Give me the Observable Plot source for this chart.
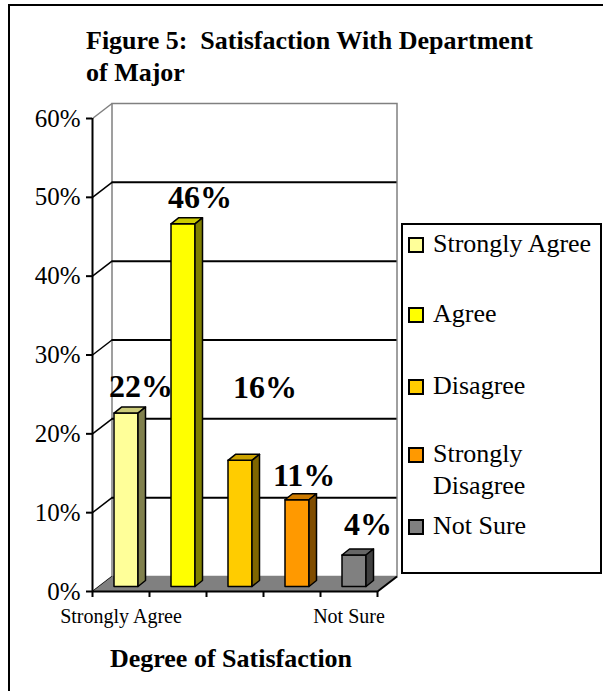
<!DOCTYPE html>
<html>
<head>
<meta charset="utf-8">
<script src="https://cdn.jsdelivr.net/npm/d3@7"></script>
<script src="https://cdn.jsdelivr.net/npm/@observablehq/plot@0.6"></script>
<style>
  body { margin: 0; background: #fff; font-family: "Liberation Serif", "Times New Roman", serif; }
  #page { position: relative; width: 603px; height: 691px; overflow: hidden; background: #fff; }
  #page svg { position: absolute; left: 0; top: 0; }
  .bt { position: absolute; left: 8px; top: 4px; right: 0; height: 2px; background: #000; }
  .bl { position: absolute; left: 8px; top: 4px; width: 2px; bottom: 0; background: #000; }
  #title { position: absolute; left: 86px; top: 25px; font-weight: bold; font-size: 26px; line-height: 32px; white-space: pre; color: #000; }
  #xtitle { position: absolute; left: 0; width: 462px; top: 643px; text-align: center; font-weight: bold; font-size: 26px; line-height: 32px; color: #000; }
  #legend { position: absolute; left: 401px; top: 223px; width: 201px; height: 351px; border: 2px solid #000; box-sizing: border-box; background: #fff; }
  .item { position: absolute; left: 5px; font-size: 26px; line-height: 32px; color: #000; }
  .sw { position: absolute; left: 0; top: 9px; width: 16px; height: 16px; border: 2px solid #000; box-sizing: border-box; }
  .lt { position: absolute; left: 25px; top: 0; white-space: nowrap; }
</style>
</head>
<body>
<div id="page">
  <div class="bt"></div><div class="bl"></div>
  <div id="title"></div>
  <div id="xtitle"></div>
  <div id="legend"></div>
</div>
<script>
// ---- data ----
const categories = ["Strongly Agree", "Agree", "Disagree", "Strongly Disagree", "Not Sure"];
const values = [22, 46, 16, 11, 4];
const yTicks = [0, 10, 20, 30, 40, 50, 60];
const xTickLabels = ["Strongly Agree", "", "", "", "Not Sure"];
const legendLabels = ["Strongly Agree", "Agree", "Disagree", "Strongly\nDisagree", "Not Sure"];
const titleText = "Figure 5:  Satisfaction With Department\nof Major";
const xTitle = "Degree of Satisfaction";

// ---- styles ----
const frontColors = ["#FFFF99", "#FFFF00", "#FFCC00", "#FF9900", "#808080"];
const topColors   = ["#CCCC7A", "#CCCC00", "#CCA300", "#CC7A00", "#666666"];
const sideColors  = ["#80804D", "#808000", "#806600", "#804D00", "#404040"];
const W = 603, H = 691;
const M = {left: 92, right: 226, top: 118, bottom: 100};
const WALL = {dx: 19.5, dy: 15};      // px depth of back wall
const BAR = {width: 24, shiftX: 5, shiftY: 5, depthX: 7.5, depthY: 6}; // px
const labelNudge = [[20, -21], [22, -21], [30, -67], [12, -19], [19, -25]]; // px [dx, baseline dy]
const legendTops = [3, 73, 145, 213, 285];

const xDomain = [0, categories.length];
const yDomain = [0, yTicks[yTicks.length - 1]];
const kx = (xDomain[1] - xDomain[0]) / (W - M.left - M.right);
const ky = (yDomain[1] - yDomain[0]) / (H - M.top - M.bottom);

// back-wall side diagonals
const diag = yTicks.map(v => ({x1: 0, y1: v, x2: WALL.dx * kx, y2: v + WALL.dy * ky,
  c: v === yDomain[1] ? "#808080" : "#000"}));
// floor polygon
const floor = [
  {x: xDomain[0], y: 0}, {x: xDomain[1], y: 0},
  {x: xDomain[1] + WALL.dx * kx, y: WALL.dy * ky}, {x: xDomain[0] + WALL.dx * kx, y: WALL.dy * ky},
  {x: xDomain[0], y: 0}
];
// bar faces
const faces = [];
values.forEach((v, i) => {
  const xl = i + 0.5 + (BAR.shiftX - BAR.width / 2) * kx;
  const xr = xl + BAR.width * kx;
  const yb = BAR.shiftY * ky, yt = v + BAR.shiftY * ky;
  const ddx = BAR.depthX * kx, ddy = BAR.depthY * ky;
  const poly = (id, fill, pts) => pts.forEach(([x, y]) => faces.push({id, fill, x, y}));
  poly(i + "f", frontColors[i], [[xl, yb], [xr, yb], [xr, yt], [xl, yt], [xl, yb]]);
  poly(i + "t", topColors[i], [[xl, yt], [xr, yt], [xr + ddx, yt + ddy], [xl + ddx, yt + ddy], [xl, yt]]);
  poly(i + "s", sideColors[i], [[xr, yb], [xr + ddx, yb + ddy], [xr + ddx, yt + ddy], [xr, yt], [xr, yb]]);
});

const labelMarks = values.map((v, i) => Plot.text([{x: i + 0.5, y: v, t: v + "%"}], {
  x: "x", y: "y", text: "t", fontSize: 32, fontWeight: "bold", fill: "#000",
  lineAnchor: "bottom", textAnchor: "middle", dx: labelNudge[i][0], dy: labelNudge[i][1]
}));

const chart = Plot.plot({
  width: W, height: H,
  marginLeft: M.left, marginRight: M.right, marginTop: M.top, marginBottom: M.bottom,
  x: {domain: xDomain},
  y: {domain: yDomain},
  color: {type: "identity"},
  style: {fontFamily: "Liberation Serif, Times New Roman, serif", color: "#000", background: "transparent", overflow: "visible"},
  marks: [
    Plot.frame({stroke: "#808080", strokeWidth: 1.5, dx: WALL.dx, dy: -WALL.dy}),
    Plot.ruleY(yTicks.filter(v => v > 0 && v < yDomain[1]), {stroke: "#000", strokeWidth: 2, dx: WALL.dx, dy: -WALL.dy}),
    Plot.link(diag, {x1: "x1", y1: "y1", x2: "x2", y2: "y2", stroke: "c", strokeWidth: 1.5}),
    Plot.line(floor, {x: "x", y: "y", fill: "#808080", stroke: "none"}),
    Plot.link([{x1: xDomain[1], y1: 0, x2: xDomain[1] + WALL.dx * kx, y2: WALL.dy * ky}],
      {x1: "x1", y1: "y1", x2: "x2", y2: "y2", stroke: "#000", strokeWidth: 2}),
    Plot.ruleX([0], {stroke: "#000", strokeWidth: 2}),
    Plot.ruleY([0], {stroke: "#000", strokeWidth: 2}),
    Plot.line(faces, {x: "x", y: "y", z: "id", fill: "fill", stroke: "#000", strokeWidth: 1.5, strokeLinejoin: "round"}),
    ...labelMarks,
    Plot.axisY({ticks: yTicks, tickFormat: d => d + "%", tickSize: 6, tickPadding: 6, fontSize: 25, label: null, strokeWidth: 2}),
    Plot.axisX({ticks: d3.range(xDomain[0], xDomain[1] + 1), tickFormat: () => "", tickSize: 6, label: null, strokeWidth: 2}),
    Plot.axisX({ticks: xTickLabels.map((t, i) => t ? i + 0.5 : null).filter(t => t !== null),
      tickFormat: t => xTickLabels[Math.floor(t)], tickSize: 0, tickPadding: 17, fontSize: 20, label: null})
  ]
});
document.getElementById("page").insertBefore(chart, document.getElementById("title"));

document.getElementById("title").textContent = titleText;
document.getElementById("xtitle").textContent = xTitle;
const legend = document.getElementById("legend");
legendLabels.forEach((lab, i) => {
  const it = document.createElement("div");
  it.className = "item";
  it.style.top = legendTops[i] + "px";
  const sw = document.createElement("span");
  sw.className = "sw";
  sw.style.background = frontColors[i];
  const t = document.createElement("span");
  t.className = "lt";
  t.style.whiteSpace = "pre";
  t.textContent = lab;
  it.appendChild(sw); it.appendChild(t);
  legend.appendChild(it);
});
</script>
</body>
</html>
